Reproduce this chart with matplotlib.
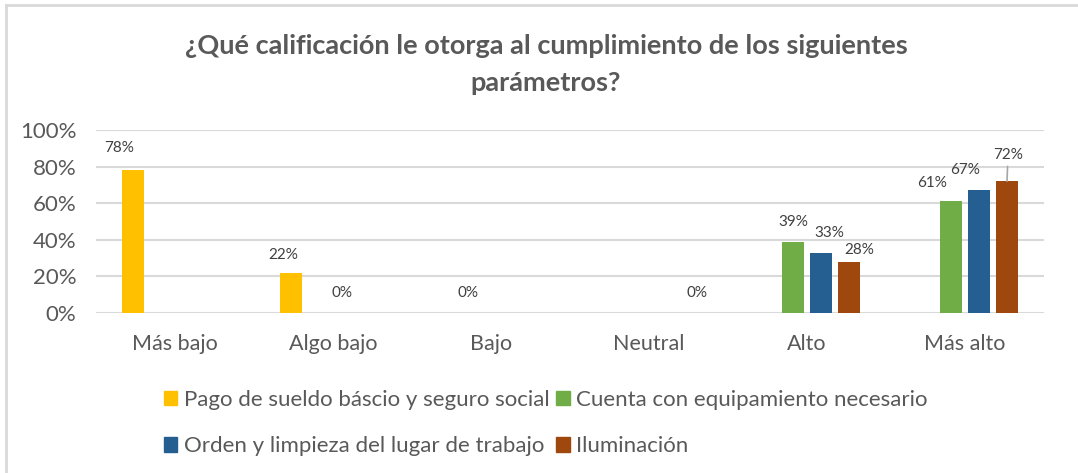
import numpy as np
import matplotlib
matplotlib.use("Agg")
import matplotlib.pyplot as plt
from matplotlib.patches import Patch
from matplotlib.lines import Line2D

plt.rcParams['font.family'] = ['Lato', 'DejaVu Sans']

# data
categorias = ['Más bajo', 'Algo bajo', 'Bajo', 'Neutral', 'Alto', 'Más alto']
series = ['Pago de sueldo báscio y seguro social',
          'Cuenta con equipamiento necesario',
          'Orden y limpieza del lugar de trabajo',
          'Iluminación']
pago = [0.78, 0.22, np.nan, np.nan, np.nan, np.nan]
equipo = [np.nan, np.nan, 0.0, np.nan, 0.39, 0.61]
orden = [np.nan, 0.0, np.nan, np.nan, 0.33, 0.67]
ilum = [np.nan, np.nan, np.nan, 0.0, 0.28, 0.72]
colores = ['#FFC000', '#70AD47', '#255E91', '#9E480E']

# label nudges in pixels (dx, dy above bar top), set by hand like in excel
nudge = {
    (0, 0): (-14, 22), (0, 1): (-8, 18),
    (2, 1): (-5, 20), (1, 2): (-9, 20), (3, 3): (6, 20),
    (1, 4): (0, 20), (2, 4): (8, 20), (3, 4): (10, 12),
    (1, 5): (-19, 18), (2, 5): (-14, 20), (3, 5): (1, 26),
}

gris = '#595959'
W, H = 1078, 473
fig = plt.figure(figsize=(W / 100, H / 100), dpi=100)
ax = fig.add_axes([96 / W, 1 - 313 / H, 948 / W, 183 / H])

x = np.arange(len(categorias))
ancho = 22 / 158
paso = 28 / 158
datos = [pago, equipo, orden, ilum]
px2pt = 0.72
for i, vals in enumerate(datos):
    pos = x + (i - 1.5) * paso
    v = np.array(vals, dtype=float)
    ax.bar(pos, np.nan_to_num(v), width=ancho, color=colores[i], zorder=3)
    for j, val in enumerate(v):
        if np.isnan(val):
            continue
        dx, dy = nudge.get((i, j), (0, 20))
        if (i, j) == (3, 5):
            ax.annotate('%d%%' % round(val * 100), (pos[j], val),
                        xytext=(dx * px2pt, dy * px2pt), textcoords='offset points',
                        ha='center', va='center', fontsize=11, color='#404040',
                        arrowprops=dict(arrowstyle='-', color='#A6A6A6', lw=1.2,
                                        shrinkA=1, shrinkB=0))
        else:
            ax.annotate('%d%%' % round(val * 100), (pos[j], val),
                        xytext=(dx * px2pt, dy * px2pt), textcoords='offset points',
                        ha='center', va='center', fontsize=11, color='#404040')

ax.set_xlim(-0.5, len(categorias) - 0.5)
ax.set_ylim(0, 1)
ax.set_yticks(np.arange(0, 1.01, 0.2))
ax.set_yticklabels(['%d%%' % (t * 100) for t in np.arange(0, 1.01, 0.2)])
ax.set_xticks(x)
ax.set_xticklabels(categorias)
ax.tick_params(axis='both', length=0, colors=gris)
ax.tick_params(axis='x', pad=15, labelsize=15.5)
ax.tick_params(axis='y', pad=14, labelsize=16)
ax.grid(axis='y', color='#D9D9D9', lw=1.5, zorder=0)
for s in ax.spines.values():
    s.set_visible(False)

fig.text(546 / W, 1 - 46 / H, '¿Qué calificación le otorga al cumplimiento de los siguientes',
         ha='center', va='center', fontsize=19.5, fontweight='bold', color=gris)
fig.text(546 / W, 1 - 83 / H, 'parámetros?',
         ha='center', va='center', fontsize=19.5, fontweight='bold', color=gris)

handles = [Patch(color=colores[k]) for k in [0, 2, 1, 3]]
labels = [series[k] for k in [0, 2, 1, 3]]
fig.legend(handles, labels, ncol=2, loc='center', bbox_to_anchor=(546 / W, 1 - 423 / H),
           frameon=False, fontsize=16, handlelength=0.6, handleheight=0.6,
           handletextpad=0.3, columnspacing=0.3, labelspacing=1.2, labelcolor=gris)

fig.add_artist(Line2D([6 / W, 1], [1 - 5 / H, 1 - 5 / H], color='#D9D9D9', lw=2))
fig.add_artist(Line2D([6 / W, 6 / W], [0, 1 - 5 / H], color='#D9D9D9', lw=2))

fig.savefig('out.png', dpi=100)
